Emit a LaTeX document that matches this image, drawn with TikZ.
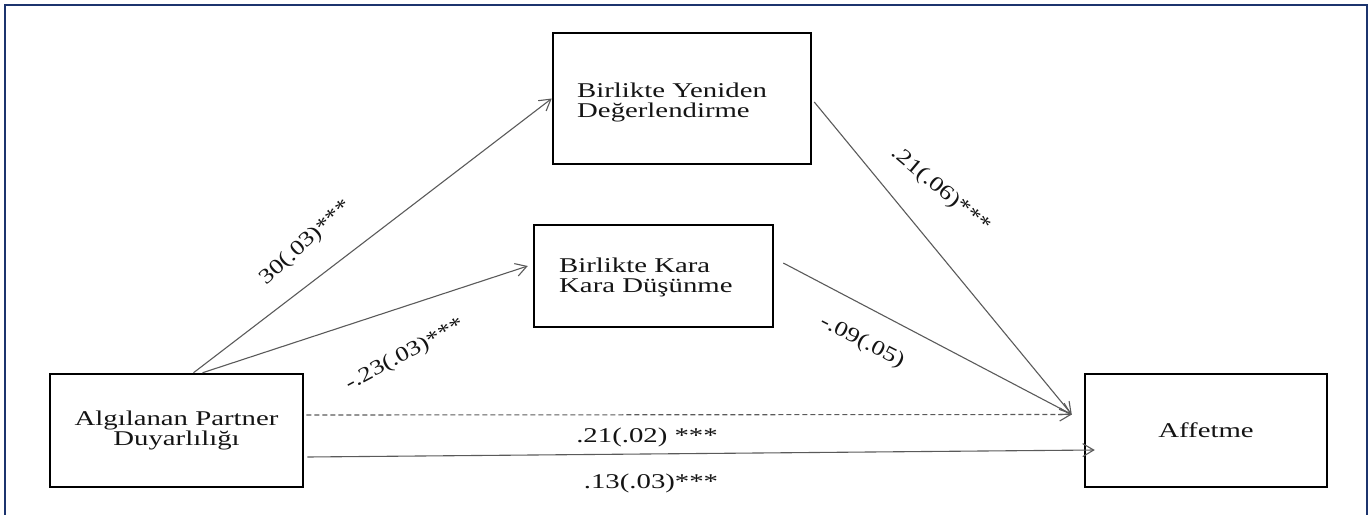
\documentclass[tikz,border=0pt]{standalone}
\usepackage{fontspec}
\usepackage{graphicx}
\setmainfont{Liberation Serif}[FakeStretch=1.37]
\newfontfamily\rotfont{Liberation Serif}
\usetikzlibrary{arrows.meta,calc}
\definecolor{frameblue}{RGB}{28,52,110}
\definecolor{edgegray}{RGB}{90,90,90}
\definecolor{txt}{RGB}{20,20,20}
\newcommand{\rtext}[1]{\scalebox{1.25}[1]{#1}}
\begin{document}
\begin{tikzpicture}[x=1pt,y=-1pt,
  box/.style={draw=black,line width=2.5pt,inner sep=0pt,text=txt,
    font=\fontsize{21}{20}\selectfont,align=center},
  edge/.style={draw=edgegray,line width=1.1pt,-{Straight Barb[length=11pt,width=13pt,line width=1.1pt]}},
  lbl/.style={inner sep=0pt,text=txt,font=\fontsize{21}{20}\selectfont},
  rlbl/.style={inner sep=0pt,text=txt,font=\rotfont\fontsize{21}{20}\selectfont}]
\useasboundingbox (0,0) rectangle (1372,514);
\draw[frameblue,line width=2.5pt] (5,5) rectangle (1367,540);

% boxes
\node[box,minimum width=253pt,minimum height=113pt] (A) at (176.5,430.5) {Algılanan Partner\\Duyarlılığı};
\node[box,minimum width=258pt,minimum height=131pt] (B) at (682,98.5) {};
\node[box,minimum width=239pt,minimum height=102pt] (C) at (653.5,276) {};
\node[box,minimum width=242pt,minimum height=113pt] (D) at (1206,430.5) {Affetme};

% box texts
\node[lbl,anchor=base west] (B1) at (577,97) {Birlikte Yeniden};
\node[lbl,anchor=base west] (B2) at (577,117) {Değerlendirme};
\node[lbl,anchor=base west] (C1) at (559,272) {Birlikte Kara};
\node[lbl,anchor=base west] (C2) at (559,292) {Kara Düşünme};

% join point
\coordinate (J) at ($(D.west)+(-12,-16)$);

% connectors
\draw[edge] ([xshift=17pt]A.north) -- (B.west);
\draw[edge] ([xshift=26pt]A.north) -- ($(C.west)+(-5,-10)$);
\draw[edge] ($(B.east)+(2,3.5)$) -- (J);
\draw[edge] ($(C.east)+(9,-13)$) -- (J);
\draw[edge,dash pattern=on 5pt off 3pt] ($(A.east)+(2,-15.5)$) -- (J);
\draw[edge] ($(A.east)+(3,26.5)$) -- ($(D.west)+(11,19.5)$);

% labels
\node[rlbl,rotate=42] (L1) at (306,243) {\rtext{30(.03)***}};
\node[rlbl,rotate=28] (L2) at (405,355) {\rtext{-.23(.03)***}};
\node[rlbl,rotate=-40] (L3) at (941,190) {\rtext{.21(.06)***}};
\node[rlbl,rotate=-27] (L4) at (862,342) {\rtext{-.09(.05)}};
\node[lbl,anchor=base] (L5) at (647,442) {.21(.02) ***};
\node[lbl,anchor=base] (L6) at (651,488) {.13(.03)***};
\end{tikzpicture}
\end{document}
